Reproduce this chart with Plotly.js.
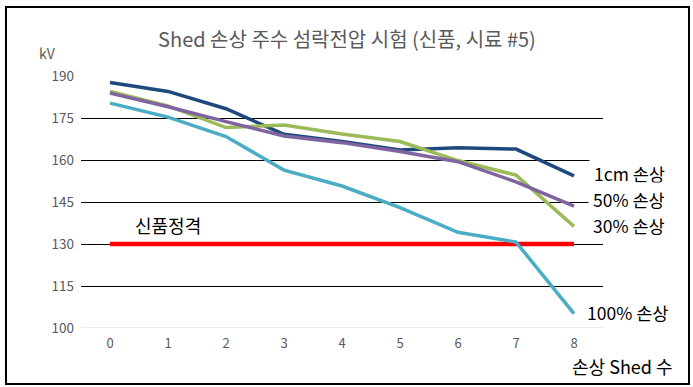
<!DOCTYPE html>
<html>
<head>
<meta charset="utf-8">
<script src="https://cdn.plot.ly/plotly-3.0.1.min.js"></script>
<style>
html,body{margin:0;padding:0;background:#fff;}
#wrap{position:relative;width:693px;height:387px;}
#chart{width:693px;height:387px;}
#frame{position:absolute;left:5px;top:6px;width:681px;height:375px;border:2px solid #000;pointer-events:none;}
</style>
</head>
<body>
<div id="wrap"><div id="chart"></div><div id="frame"></div></div>
<script>
const FONT = '"Noto Sans CJK KR", "Noto Sans", sans-serif';

const shedCounts = [0, 1, 2, 3, 4, 5, 6, 7, 8];
const yTicks = [100, 115, 130, 145, 160, 175, 190];

const seriesNames = ['1cm 손상', '30% 손상', '50% 손상', '100% 손상'];
const v1cm   = [187.7, 184.5, 178.3, 169.2, 166.6, 163.6, 164.4, 163.9, 154.3];
const v30    = [184.5, 179.3, 171.6, 172.5, 169.3, 166.6, 159.8, 154.6, 136.3];
const v50    = [183.9, 179.0, 173.7, 168.6, 166.2, 163.0, 159.4, 152.2, 143.5];
const v100   = [180.3, 175.3, 168.4, 156.4, 150.7, 143.0, 134.2, 130.7, 105.1];
const ratedName = '신품정격';
const ratedValue = [130, 130, 130, 130, 130, 130, 130, 130, 130];

const titleText = 'Shed 손상 주수 섬락전압 시험 (신품, 시료 #5)';
const yUnit = 'kV';
const xTitle = '손상 Shed 수';

const traces = [
  {x: shedCounts, y: ratedValue, name: ratedName, mode: 'lines', line: {color: '#FF0000', width: 4.5}},
  {x: shedCounts, y: v1cm, name: seriesNames[0], mode: 'lines', line: {color: '#1F497D', width: 3.5}},
  {x: shedCounts, y: v100, name: seriesNames[3], mode: 'lines', line: {color: '#4BACC6', width: 3.5}},
  {x: shedCounts, y: v30, name: seriesNames[1], mode: 'lines', line: {color: '#9BBB59', width: 3.5}},
  {x: shedCounts, y: v50, name: seriesNames[2], mode: 'lines', line: {color: '#8064A2', width: 3.5}}
];

function lab(text, x, y, opts) {
  return Object.assign({
    text: text, xref: 'paper', yref: 'paper', x: x, y: y,
    xanchor: 'left', yanchor: 'middle', showarrow: false,
    font: {family: FONT, size: 17.5, color: '#000'}
  }, opts || {});
}

const layout = {
  width: 693, height: 387,
  margin: {l: 81, r: 90, t: 76, b: 59},
  paper_bgcolor: '#fff', plot_bgcolor: '#fff',
  showlegend: false,
  font: {family: FONT},
  title: {
    text: titleText, x: 0.5007, xref: 'container', y: 1 - 40/387, yref: 'container',
    xanchor: 'center', yanchor: 'middle',
    font: {family: FONT, size: 20, color: '#595959'}
  },
  xaxis: {
    range: [-0.5, 8.5], tickvals: shedCounts, ticktext: shedCounts.map(String),
    showgrid: false, zeroline: false, showline: false, ticks: '',
    ticklabelstandoff: 6,
    tickfont: {family: FONT, size: 13, color: '#595959'}
  },
  yaxis: {
    range: [100, 190], tickvals: yTicks, ticktext: yTicks.map(String),
    showgrid: true, gridcolor: '#000', gridwidth: 1, zeroline: false,
    showline: false, ticks: '', ticklabelstandoff: 6,
    tickfont: {family: FONT, size: 13.5, color: '#595959'}
  },
  shapes: [
    {type: 'line', xref: 'paper', yref: 'y', x0: 0, x1: 1, y0: 100, y1: 100,
     line: {color: '#D9D9D9', width: 1}, layer: 'below'}
  ],
  annotations: [
    lab(seriesNames[0], 0.973, 0.615, {bgcolor: '#fff', borderpad: 4}),
    lab(seriesNames[2], 0.971, 0.508, {bgcolor: '#fff', borderpad: 4}),
    lab(seriesNames[1], 0.977, 0.405),
    lab(seriesNames[3], 0.966, 0.063),
    lab(ratedName, 0.0996, 0.409, {font: {family: FONT, size: 18, color: '#000'}}),
    lab(xTitle, 1.138, -0.151, {xanchor: 'right', font: {family: FONT, size: 18, color: '#000'}}),
    lab(yUnit, -0.084, 1.091, {font: {family: FONT, size: 14, color: '#595959'}})
  ]
};

Plotly.newPlot('chart', traces, layout, {staticPlot: true, displayModeBar: false});
</script>
</body>
</html>
